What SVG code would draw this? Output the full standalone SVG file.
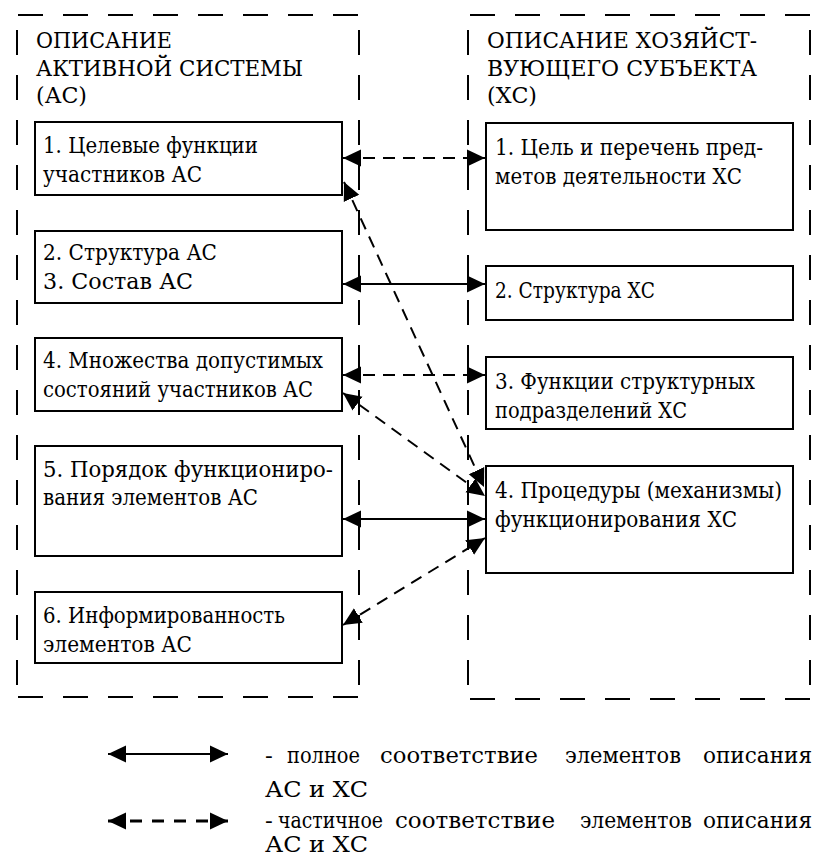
<svg xmlns="http://www.w3.org/2000/svg" width="820" height="859" viewBox="0 0 820 859">
<style>
text{font-family:'DejaVu Serif',serif;font-size:22px;fill:#000}
.lg{font-size:23px}
.box{fill:#fff;stroke:#000;stroke-width:2}
.frame{stroke:#000;stroke-width:2;stroke-dasharray:25 20;fill:none}
.solid{stroke:#000;stroke-width:2;fill:none}
.dash{stroke:#000;stroke-width:2;fill:none;stroke-dasharray:12 8}
.ldash{stroke:#000;stroke-width:3;fill:none;stroke-dasharray:12 10}
</style>
<defs>
<marker id="ah" markerUnits="userSpaceOnUse" markerWidth="19" markerHeight="18" refX="18" refY="8.5" orient="auto-start-reverse" viewBox="0 0 19 17">
<path d="M0,0 L18,8.5 L0,17 z" fill="#000"/>
</marker>
</defs>
<g id="frames">
<line class="frame" x1="18" y1="15" x2="358" y2="15"/>
<line class="frame" x1="17" y1="30" x2="17" y2="685"/>
<line class="frame" x1="359" y1="30" x2="359" y2="685"/>
<line class="frame" x1="18" y1="697" x2="358" y2="697"/>
<line class="frame" x1="470" y1="15" x2="820" y2="15"/>
<line class="frame" x1="468" y1="30" x2="468" y2="688"/>
<line class="frame" x1="810" y1="30" x2="810" y2="688"/>
<line class="frame" x1="470" y1="699" x2="820" y2="699"/>
</g>
<g id="header-ac">
<text x="36" y="48" textLength="136" lengthAdjust="spacingAndGlyphs">ОПИСАНИЕ</text>
<text x="36" y="76" textLength="267" lengthAdjust="spacingAndGlyphs">АКТИВНОЙ СИСТЕМЫ</text>
<text x="36" y="103" textLength="51" lengthAdjust="spacingAndGlyphs">(АС)</text>
</g>
<g id="header-hs">
<text x="487" y="48" textLength="270" lengthAdjust="spacingAndGlyphs">ОПИСАНИЕ ХОЗЯЙСТ-</text>
<text x="487" y="76" textLength="270" lengthAdjust="spacingAndGlyphs">ВУЮЩЕГО СУБЪЕКТА</text>
<text x="487" y="103" textLength="50" lengthAdjust="spacingAndGlyphs">(ХС)</text>
</g>
<g id="ac1"><rect class="box" x="35" y="122" width="307" height="73"/>
<text x="43" y="153" textLength="215" lengthAdjust="spacingAndGlyphs">1. Целевые функции</text>
<text x="43" y="182" textLength="159" lengthAdjust="spacingAndGlyphs">участников АС</text></g>
<g id="ac2"><rect class="box" x="35" y="231" width="307" height="72"/>
<text x="43" y="260" textLength="174" lengthAdjust="spacingAndGlyphs">2. Структура АС</text>
<text x="43" y="289" textLength="150" lengthAdjust="spacingAndGlyphs">3. Состав АС</text></g>
<g id="ac4"><rect class="box" x="35" y="338" width="307" height="73"/>
<text x="43" y="368" textLength="280" lengthAdjust="spacingAndGlyphs">4. Множества допустимых</text>
<text x="43" y="397" textLength="270" lengthAdjust="spacingAndGlyphs">состояний участников АС</text></g>
<g id="ac5"><rect class="box" x="35" y="446" width="307" height="110"/>
<text x="43" y="477" textLength="290" lengthAdjust="spacingAndGlyphs">5. Порядок функциониро-</text>
<text x="43" y="505" textLength="215" lengthAdjust="spacingAndGlyphs">вания элементов АС</text></g>
<g id="ac6"><rect class="box" x="35" y="592" width="307" height="71"/>
<text x="43" y="623" textLength="242" lengthAdjust="spacingAndGlyphs">6. Информированность</text>
<text x="43" y="652" textLength="149" lengthAdjust="spacingAndGlyphs">элементов АС</text></g>
<g id="hs1"><rect class="box" x="486" y="123" width="307" height="107"/>
<text x="495" y="155" textLength="268" lengthAdjust="spacingAndGlyphs">1. Цель и перечень пред-</text>
<text x="495" y="184" textLength="247" lengthAdjust="spacingAndGlyphs">метов деятельности ХС</text></g>
<g id="hs2"><rect class="box" x="486" y="266" width="307" height="54"/>
<text x="495" y="298" textLength="160" lengthAdjust="spacingAndGlyphs">2. Структура ХС</text></g>
<g id="hs3"><rect class="box" x="486" y="357" width="307" height="72"/>
<text x="495" y="389" textLength="260" lengthAdjust="spacingAndGlyphs">3. Функции структурных</text>
<text x="495" y="418" textLength="192" lengthAdjust="spacingAndGlyphs">подразделений ХС</text></g>
<g id="hs4"><rect class="box" x="486" y="466" width="307" height="107"/>
<text x="495" y="498" textLength="287" lengthAdjust="spacingAndGlyphs">4. Процедуры (механизмы)</text>
<text x="495" y="527" textLength="242" lengthAdjust="spacingAndGlyphs">функционирования ХС</text></g>
<g id="connectors">
<line class="dash" x1="343" y1="158" x2="485" y2="158" marker-start="url(#ah)" marker-end="url(#ah)"/>
<line class="solid" x1="343" y1="284" x2="485" y2="284" marker-start="url(#ah)" marker-end="url(#ah)"/>
<line class="dash" x1="343" y1="375" x2="485" y2="375" marker-start="url(#ah)" marker-end="url(#ah)"/>
<line class="solid" x1="343" y1="519" x2="485" y2="519" marker-start="url(#ah)" marker-end="url(#ah)"/>
<line class="dash" x1="344" y1="182" x2="484" y2="487" marker-start="url(#ah)" marker-end="url(#ah)"/>
<line class="dash" x1="343" y1="393" x2="485" y2="496" marker-start="url(#ah)" marker-end="url(#ah)"/>
<line class="dash" x1="343" y1="625" x2="485" y2="538" marker-start="url(#ah)" marker-end="url(#ah)"/>
</g>
<g id="legend">
<line class="solid" x1="108" y1="754" x2="228" y2="754" stroke-width="3" marker-start="url(#ah)" marker-end="url(#ah)"/>
<line class="ldash" x1="108" y1="821" x2="228" y2="821" marker-start="url(#ah)" marker-end="url(#ah)"/>
<text class="lg" x="265" y="763">-</text>
<text class="lg" x="287" y="763" textLength="73" lengthAdjust="spacingAndGlyphs">полное</text>
<text class="lg" x="380" y="763" textLength="158" lengthAdjust="spacingAndGlyphs">соответствие</text>
<text class="lg" x="565" y="763" textLength="116" lengthAdjust="spacingAndGlyphs">элементов</text>
<text class="lg" x="703" y="763" textLength="109" lengthAdjust="spacingAndGlyphs">описания</text>
<text class="lg" x="265" y="797" textLength="103" lengthAdjust="spacingAndGlyphs">АС и ХС</text>
<text class="lg" x="265" y="828">-</text>
<text class="lg" x="278" y="828" textLength="105" lengthAdjust="spacingAndGlyphs">частичное</text>
<text class="lg" x="395" y="828" textLength="160" lengthAdjust="spacingAndGlyphs">соответствие</text>
<text class="lg" x="580" y="828" textLength="112" lengthAdjust="spacingAndGlyphs">элементов</text>
<text class="lg" x="703" y="828" textLength="109" lengthAdjust="spacingAndGlyphs">описания</text>
<text class="lg" x="265" y="852" textLength="103" lengthAdjust="spacingAndGlyphs">АС и ХС</text>
</g>
</svg>
